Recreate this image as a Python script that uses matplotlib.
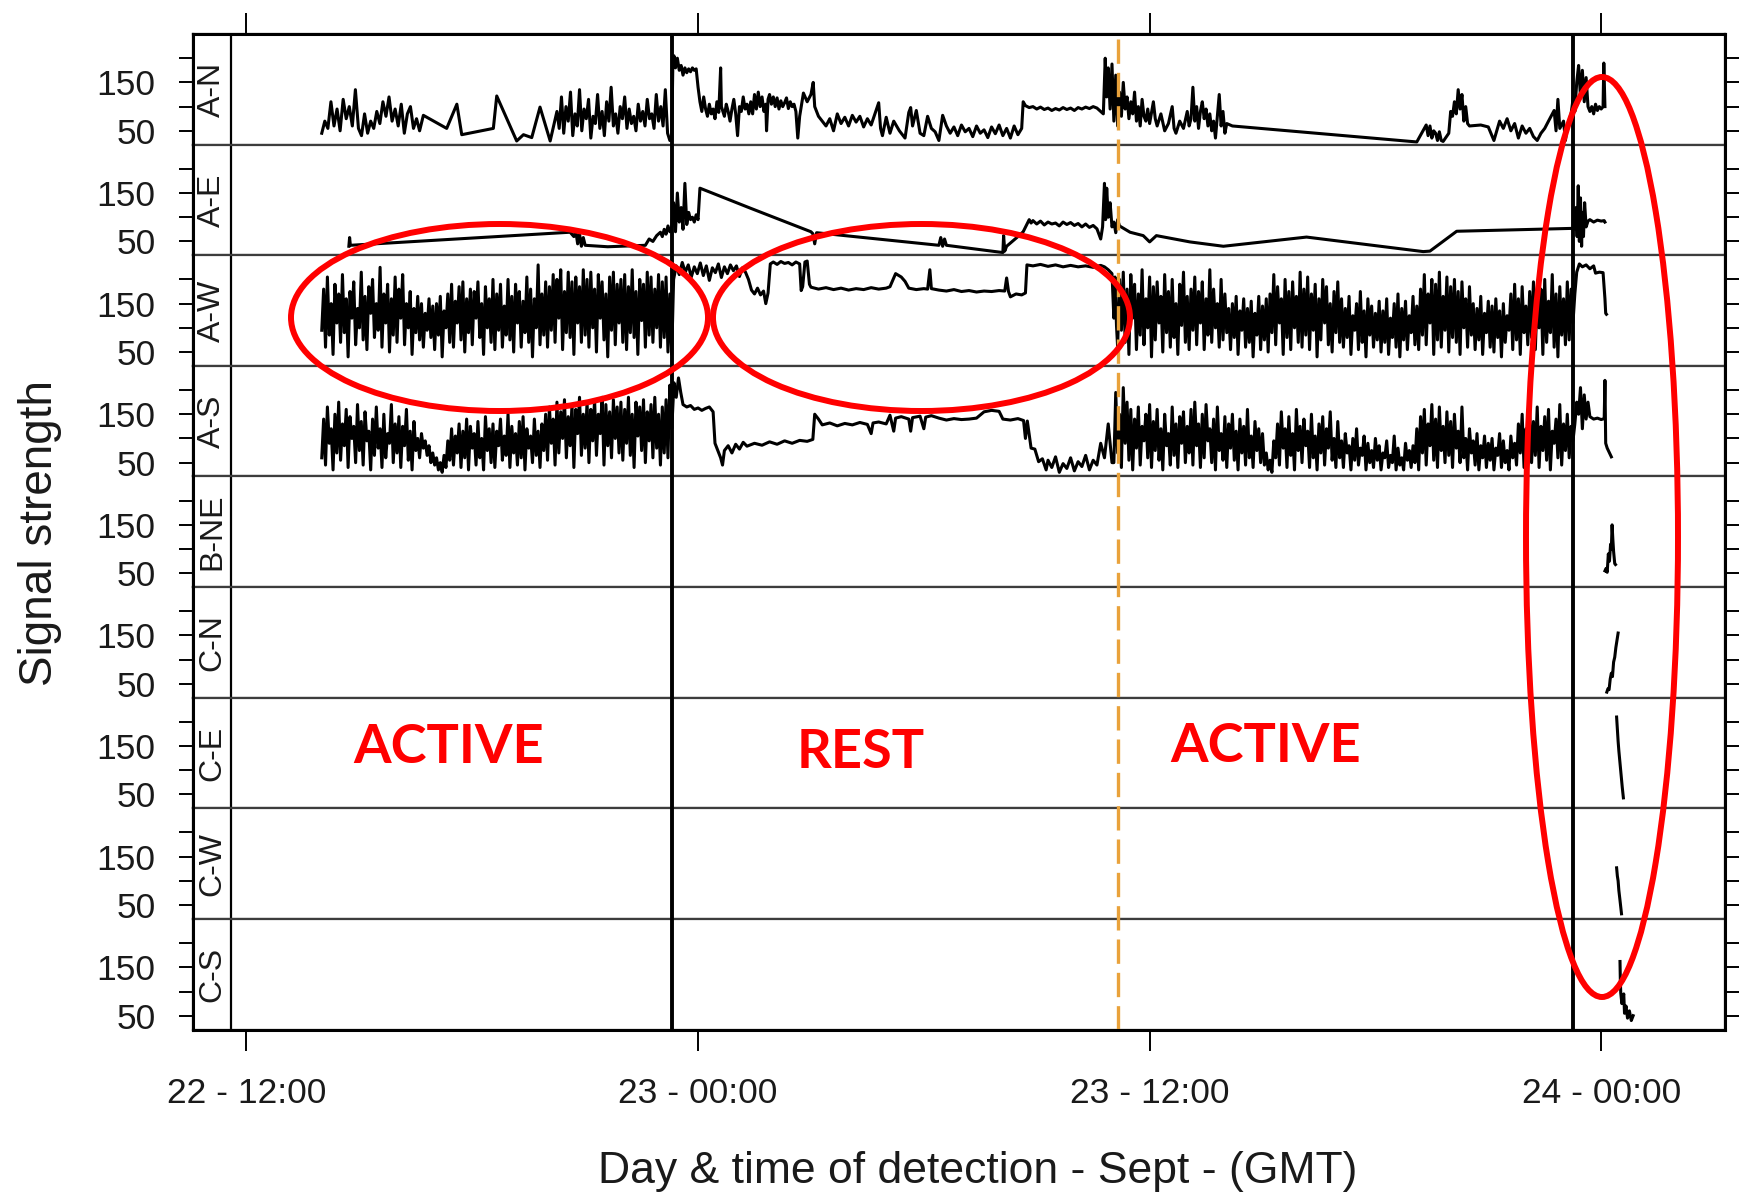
import numpy as np
import matplotlib
matplotlib.use("Agg")
import matplotlib.pyplot as plt
from matplotlib.patches import Ellipse

plt.rcParams['font.family'] = ['Liberation Sans', 'DejaVu Sans']

# ---------------- DATA (time in hours since 22 Sept 00:00 GMT) ----------------
panel_names = ["A-N", "A-E", "A-W", "A-S", "B-NE", "C-N", "C-E", "C-W", "C-S"]
xtick_hours = [12, 24, 36, 48]
xtick_labels = ["22 - 12:00", "23 - 00:00", "23 - 12:00", "24 - 00:00"]
ytick_vals = [50, 100, 150, 200]
ytick_labels = ["50", "", "150", ""]
event_black = [23.30, 47.26]
event_orange = [35.16]

# A-N
AN_grid1 = (14.0, 16.6, [45, 70, 55, 110, 60, 95, 50, 115, 75, 100, 60, 135, 55, 40, 85, 45, 70, 55, 90, 65,
                         110, 80, 120, 70, 95, 60, 105, 45, 85, 100, 55, 75, 50])
AN_pts1 = [(16.7, 82), (17.32, 55), (17.59, 105), (17.72, 42), (18.56, 55), (18.65, 122), (19.18, 29),
           (19.36, 42), (19.58, 36), (19.8, 99), (20.07, 29)]
AN_grid2 = (20.25, 23.25, [90, 55, 120, 45, 100, 70, 130, 40, 85, 60, 135, 50, 95, 75, 115, 35, 80, 65, 125, 55,
                           90, 40, 110, 70, 140, 60, 85, 45, 100, 75, 120, 55, 95, 65, 80, 50, 105, 70, 90, 60,
                           115, 75, 85, 55, 125, 70, 100, 60, 135, 45, 30])
AN_pts2 = [(23.3, 30), (23.33, 190), (23.36, 205), (23.4, 180), (23.45, 200), (23.5, 175), (23.55, 185),
           (23.6, 165), (23.65, 180), (23.7, 170), (23.75, 178), (23.8, 172), (23.85, 180), (23.9, 175),
           (23.95, 178), (24.0, 140), (24.05, 110), (24.1, 90), (24.15, 120), (24.2, 95), (24.25, 80),
           (24.3, 105), (24.35, 85), (24.4, 95), (24.45, 75), (24.5, 110), (24.55, 88), (24.6, 180),
           (24.62, 100), (24.7, 80), (24.75, 105), (24.8, 90), (24.85, 70), (24.9, 95), (24.95, 115),
           (25.0, 85), (25.05, 40), (25.1, 100), (25.15, 90), (25.2, 120), (25.25, 95), (25.3, 105), (25.35, 85)]
AN_pts3 = [(25.4, 110), (25.45, 85), (25.5, 125), (25.55, 95), (25.6, 130), (25.65, 100), (25.7, 120),
           (25.75, 90), (25.8, 105), (25.82, 50), (25.86, 115), (25.9, 125), (25.95, 105), (26.0, 120),
           (26.05, 100), (26.1, 118), (26.15, 95), (26.2, 112), (26.25, 100), (26.3, 108), (26.35, 118),
           (26.4, 96), (26.45, 110), (26.5, 100), (26.55, 105), (26.6, 90), (26.65, 35), (26.7, 80),
           (26.8, 128), (26.9, 110), (27.0, 125), (27.06, 150), (27.1, 100), (27.2, 80), (27.3, 70),
           (27.4, 60), (27.5, 75), (27.6, 50), (27.7, 85), (27.8, 65), (27.9, 78), (28.0, 60), (28.1, 82),
           (28.2, 68), (28.3, 80), (28.4, 58), (28.5, 75), (28.6, 62), (28.8, 108), (28.85, 55), (28.9, 40),
           (29.0, 78), (29.1, 45), (29.2, 70), (29.35, 50), (29.5, 35), (29.6, 88), (29.65, 98), (29.7, 60),
           (29.8, 92), (29.9, 45), (30.0, 40), (30.1, 80), (30.2, 55), (30.3, 48), (30.4, 30), (30.5, 82),
           (30.6, 60), (30.7, 45), (30.8, 58), (30.9, 40), (31.0, 62), (31.1, 48), (31.2, 55), (31.3, 38),
           (31.4, 60), (31.5, 45), (31.6, 52), (31.7, 36), (31.8, 58), (31.9, 44), (32.0, 62), (32.1, 40),
           (32.2, 55), (32.3, 35), (32.4, 60), (32.5, 42), (32.6, 55), (32.64, 110), (32.7, 102), (32.8, 98),
           (32.9, 100), (33.0, 95), (33.1, 99), (33.2, 94), (33.3, 97), (33.4, 92), (33.5, 96), (33.6, 93),
           (33.7, 98), (33.8, 94), (33.9, 97), (34.0, 92), (34.1, 98), (34.2, 95), (34.3, 99), (34.4, 96),
           (34.5, 100), (34.6, 97), (34.7, 90), (34.77, 85), (34.82, 200), (34.86, 120), (34.9, 180),
           (34.95, 95), (35.0, 188), (35.05, 70), (35.1, 165), (35.15, 60), (35.2, 130), (35.25, 80),
           (35.3, 150), (35.35, 95), (35.4, 120), (35.45, 75), (35.5, 110), (35.55, 85), (35.6, 130),
           (35.65, 70), (35.7, 100), (35.75, 60), (35.8, 115), (35.85, 80), (35.9, 70), (35.95, 95),
           (36.0, 65), (36.1, 110), (36.15, 75), (36.2, 60), (36.3, 85), (36.4, 50), (36.5, 65), (36.6, 100),
           (36.65, 55), (36.7, 45), (36.8, 70), (36.9, 55), (37.0, 90), (37.05, 60), (37.1, 75)]
AN_pts4 = [(37.15, 140), (37.2, 70), (37.25, 100), (37.3, 55), (37.35, 90), (37.4, 110), (37.45, 75),
           (37.5, 95), (37.55, 60), (37.6, 85), (37.65, 50), (37.7, 70), (37.75, 35), (37.8, 80), (37.85, 125),
           (37.9, 60), (37.95, 90), (38.0, 45), (38.05, 65), (38.2, 60), (43.1, 27), (43.35, 62), (43.4, 40),
           (43.45, 60), (43.5, 35), (43.55, 50), (43.6, 45), (43.65, 30), (43.7, 48), (43.75, 30), (43.8, 28),
           (43.95, 45), (44.0, 90), (44.05, 80), (44.1, 110), (44.15, 85), (44.2, 135), (44.25, 95),
           (44.3, 125), (44.35, 70), (44.4, 100), (44.45, 65), (44.5, 60), (44.8, 62), (45.0, 58), (45.15, 30),
           (45.3, 70), (45.4, 55), (45.5, 75), (45.6, 50), (45.7, 65), (45.8, 35), (45.9, 60), (46.0, 45),
           (46.1, 55), (46.2, 38), (46.3, 30), (46.4, 45), (46.5, 55), (46.6, 70), (46.75, 92), (46.8, 50),
           (46.85, 115), (46.9, 55), (47.0, 70), (47.05, 30), (47.1, 60), (47.2, 85), (47.26, 120),
           (47.3, 90), (47.35, 150), (47.4, 185), (47.45, 120), (47.5, 175), (47.55, 110), (47.6, 160),
           (47.65, 100), (47.7, 90), (47.75, 100), (47.8, 85), (47.85, 105), (47.9, 92), (47.95, 100),
           (48.0, 95), (48.05, 100), (48.07, 190), (48.1, 100)]

# A-E
AE_pts = [(14.72, 40), (14.74, 58), (14.76, 42), (20.6, 69), (20.7, 60), (20.75, 72), (20.8, 45), (20.85, 66),
          (20.9, 40), (20.95, 58), (21.0, 42), (21.6, 39), (22.6, 42), (22.7, 55), (22.8, 50), (22.9, 62),
          (23.0, 69), (23.05, 60), (23.1, 75), (23.15, 65), (23.2, 82), (23.25, 70), (23.3, 80), (23.35, 130),
          (23.4, 70), (23.45, 150), (23.5, 90), (23.55, 120), (23.6, 75), (23.65, 170), (23.7, 85),
          (23.75, 110), (23.8, 95), (23.85, 100), (23.9, 90), (23.95, 105), (24.0, 95), (24.05, 160),
          (25.38, 119), (27.0, 70), (27.05, 66), (27.1, 45), (27.15, 68), (30.4, 42), (30.45, 58), (30.5, 40),
          (30.55, 55), (30.6, 42), (32.1, 27), (32.12, 62), (32.15, 30), (32.2, 40), (32.5, 60), (32.64, 70),
          (32.8, 95), (32.85, 88), (32.9, 93), (33.0, 86), (33.1, 92), (33.2, 84), (33.3, 90), (33.4, 86),
          (33.5, 88), (33.6, 82), (33.7, 90), (33.8, 85), (33.9, 89), (34.0, 83), (34.1, 87), (34.2, 80),
          (34.3, 86), (34.4, 79), (34.5, 83), (34.6, 76), (34.7, 55), (34.75, 80), (34.8, 170), (34.83, 95),
          (34.86, 160), (34.9, 100), (34.95, 130), (35.0, 80), (35.05, 90), (35.1, 68), (35.15, 95),
          (35.2, 82), (35.48, 69), (35.83, 62), (36.0, 49), (36.18, 62), (37.07, 49), (37.96, 40),
          (40.17, 59), (43.27, 29), (43.45, 30), (44.16, 71), (47.26, 77), (47.3, 75), (47.33, 120),
          (47.36, 60), (47.39, 165), (47.42, 50), (47.45, 140), (47.48, 40), (47.5, 110), (47.53, 60),
          (47.56, 130), (47.6, 80), (47.65, 92), (47.7, 95), (47.8, 90), (47.9, 94), (48.0, 92), (48.08, 93),
          (48.1, 90)]

# A-W
AW_grid1 = (14.0, 23.3, [
    95, 180, 60, 205, 85, 150, 45, 190, 110, 170, 70, 210, 90, 160, 40, 175, 120, 195, 65, 140,
    100, 215, 75, 165, 55, 185, 130, 200, 80, 150, 95, 225, 60, 170, 110, 190, 50, 160, 85, 205,
    70, 180, 120, 210, 65, 150, 100, 175, 45, 140, 90, 165, 75, 150, 60, 130, 95, 160, 80, 145,
    55, 150, 85, 165, 40, 135, 100, 170, 70, 190, 60, 155, 110, 185, 75, 195, 50, 160, 90, 180,
    65, 175, 120, 195, 80, 150, 45, 185, 100, 160, 70, 200, 55, 170, 95, 190, 60, 145, 85, 200,
    75, 165, 50, 190, 110, 175, 60, 155, 90, 205, 70, 180, 40, 160, 100, 230, 65, 170, 85, 195,
    60, 185, 95, 210, 70, 200, 120, 220, 55, 175, 90, 215, 80, 195, 45, 205, 110, 185, 70, 220,
    85, 200, 60, 215, 100, 180, 50, 210, 120, 195, 75, 170, 40, 205, 95, 215, 65, 190, 110, 200,
    70, 210, 55, 185, 90, 220, 80, 175, 45, 200, 115, 190, 60, 215, 85, 205, 70, 180, 100, 210,
    60, 195, 80, 205, 50, 170, 45])
AW_pts2 = [(23.35, 200), (23.42, 228), (23.5, 210), (23.58, 235), (23.66, 215), (23.74, 230), (23.82, 205),
           (23.9, 226), (23.98, 212), (24.06, 234), (24.14, 208), (24.22, 228), (24.3, 198), (24.38, 224),
           (24.46, 214), (24.54, 232), (24.62, 204), (24.7, 226), (24.78, 212), (24.86, 230), (24.94, 218),
           (25.02, 228), (25.1, 206), (25.18, 224), (25.26, 215), (25.34, 200), (25.42, 178), (25.5, 170),
           (25.58, 182), (25.66, 168), (25.74, 176), (25.8, 150), (25.86, 172), (25.92, 232), (26.0, 236),
           (26.1, 231), (26.2, 237), (26.3, 233), (26.4, 235), (26.5, 230), (26.6, 236), (26.7, 232),
           (26.74, 177), (26.78, 185), (26.84, 236), (26.9, 238), (26.96, 190), (27.0, 184), (27.2, 180),
           (27.4, 183), (27.6, 179), (27.8, 182), (28.0, 178), (28.2, 181), (28.4, 179), (28.6, 183),
           (28.8, 180), (29.0, 182), (29.1, 185), (29.25, 212), (29.4, 205), (29.5, 196), (29.6, 182),
           (29.8, 179), (30.0, 181), (30.1, 180), (30.16, 220), (30.2, 181), (30.4, 178), (30.6, 176),
           (30.8, 179), (31.0, 175), (31.2, 177), (31.4, 174), (31.6, 176), (31.8, 175), (32.0, 177),
           (32.15, 176), (32.2, 203), (32.25, 175), (32.3, 164), (32.45, 170), (32.6, 168), (32.7, 172),
           (32.74, 230), (32.9, 228), (33.1, 231), (33.3, 227), (33.5, 230), (33.7, 226), (33.9, 229),
           (34.1, 226), (34.3, 228), (34.5, 225), (34.7, 229), (34.8, 226), (34.9, 220), (35.0, 212),
           (35.05, 120), (35.08, 205), (35.12, 104)]
AW_grid3 = (35.15, 47.25, [
    60, 200, 95, 215, 70, 180, 45, 210, 120, 190, 55, 170, 85, 220, 65, 160, 100, 205, 40, 185,
    75, 195, 110, 165, 50, 210, 90, 175, 60, 200, 80, 150, 45, 190, 105, 215, 70, 165, 55, 180,
    95, 205, 65, 175, 110, 195, 55, 160, 85, 220, 70, 180, 100, 150, 60, 200, 75, 170, 90, 140,
    55, 150, 80, 165, 45, 135, 95, 160, 60, 140, 70, 155, 40, 130, 85, 165, 55, 145, 75, 160,
    50, 170, 90, 210, 65, 185, 110, 160, 45, 200, 80, 175, 55, 195, 100, 165, 70, 215, 60, 180,
    85, 205, 55, 170, 95, 190, 40, 160, 75, 200, 110, 185, 65, 150, 50, 175, 90, 195, 70, 160,
    60, 140, 80, 165, 45, 125, 95, 150, 55, 175, 70, 135, 40, 160, 85, 145, 60, 130, 75, 155,
    50, 135, 70, 160, 45, 120, 80, 150, 60, 170, 40, 140, 75, 155, 55, 125, 90, 165, 65, 145,
    55, 180, 85, 210, 65, 170, 110, 200, 45, 190, 75, 215, 60, 165, 95, 205, 50, 185, 80, 200,
    70, 175, 45, 195, 100, 160, 60, 185, 85, 150, 55, 140, 75, 165, 45, 130, 90, 155, 60, 145,
    50, 160, 80, 135, 40, 150, 70, 125, 95, 170, 55, 190, 75, 160, 45, 185, 90, 145, 65, 175,
    80, 195, 55, 165, 100, 180, 45, 200, 70, 155, 90, 210, 60, 170, 40, 185, 85, 160, 65, 195,
    75, 180, 110])
AW_pts4 = [(47.3, 170), (47.35, 215), (47.42, 232), (47.5, 226), (47.6, 230), (47.7, 222), (47.8, 228),
           (47.85, 213), (47.95, 215), (48.05, 214), (48.1, 160), (48.12, 130), (48.14, 128)]

# A-S
AS_grid1 = (14.0, 23.3, [
    60, 140, 45, 165, 90, 120, 35, 150, 70, 175, 55, 130, 85, 160, 40, 145, 100, 125, 50, 170,
    75, 135, 45, 155, 95, 115, 35, 140, 65, 165, 80, 120, 40, 150, 60, 110, 90, 170, 50, 130,
    70, 145, 40, 125, 85, 160, 55, 115, 35, 135, 75, 100, 60, 110, 80, 95, 65, 85, 50, 70,
    45, 60, 35, 50, 30, 65, 40, 95, 55, 120, 45, 105, 70, 130, 40, 115, 60, 140, 35, 125,
    80, 110, 45, 135, 60, 100, 35, 145, 75, 120, 50, 130, 40, 115, 85, 140, 55, 105, 65, 150,
    40, 125, 70, 110, 45, 135, 60, 145, 35, 120, 80, 105, 50, 140, 65, 115, 40, 130, 75, 150,
    55, 165, 90, 140, 45, 175, 70, 155, 100, 180, 60, 145, 85, 170, 40, 160, 110, 185, 65, 150,
    80, 175, 50, 160, 95, 180, 65, 150, 110, 185, 45, 170, 85, 155, 60, 180, 100, 165, 70, 175,
    55, 160, 90, 185, 65, 150, 40, 175, 105, 165, 75, 180, 50, 155, 95, 170, 60, 185, 80, 150,
    45, 165, 70, 180, 60, 210, 120])
AS_pts2 = [(23.32, 150), (23.36, 215), (23.42, 185), (23.48, 225), (23.54, 195), (23.6, 170), (23.7, 165),
           (23.8, 168), (23.9, 160), (24.0, 163), (24.1, 158), (24.2, 162), (24.3, 165), (24.4, 155),
           (24.45, 90), (24.5, 80), (24.6, 60), (24.65, 45), (24.7, 75), (24.8, 85), (24.9, 70), (25.0, 88),
           (25.1, 78), (25.2, 92), (25.3, 84), (25.5, 90), (25.7, 86), (25.9, 93), (26.1, 88), (26.3, 95),
           (26.5, 90), (26.7, 96), (26.9, 94), (27.05, 98), (27.1, 150), (27.2, 140), (27.3, 128), (27.5, 132),
           (27.7, 126), (27.9, 131), (28.1, 128), (28.3, 133), (28.5, 129), (28.6, 110), (28.65, 132),
           (28.8, 134), (29.0, 130), (29.1, 148), (29.2, 115), (29.25, 142), (29.4, 145), (29.6, 140),
           (29.65, 115), (29.7, 143), (29.9, 146), (30.0, 120), (30.05, 144), (30.2, 147), (30.4, 142),
           (30.6, 138), (30.8, 141), (31.0, 139), (31.2, 140), (31.4, 142), (31.6, 155), (31.8, 158),
           (32.0, 156), (32.1, 140), (32.3, 138), (32.5, 141), (32.65, 137), (32.7, 100), (32.75, 136),
           (32.85, 80), (32.95, 78), (33.05, 52), (33.15, 58), (33.25, 35), (33.3, 55), (33.4, 40), (33.5, 62),
           (33.6, 30), (33.7, 48), (33.8, 38), (33.9, 60), (34.0, 33), (34.1, 52), (34.2, 42), (34.3, 65),
           (34.4, 35), (34.5, 55), (34.6, 45), (34.7, 90), (34.8, 60), (34.9, 130), (35.0, 50)]
AS_grid3 = (35.05, 47.25, [
    50, 195, 70, 150, 40, 205, 90, 175, 55, 160, 35, 140, 80, 165, 45, 125, 95, 150, 60, 170,
    40, 135, 75, 160, 55, 120, 35, 150, 85, 110, 45, 165, 65, 130, 40, 145, 90, 155, 50, 125,
    70, 160, 45, 175, 85, 130, 40, 150, 60, 170, 95, 120, 50, 140, 35, 165, 75, 110, 55, 145,
    40, 130, 80, 150, 55, 115, 35, 140, 70, 125, 45, 160, 60, 105, 40, 135, 75, 120, 50, 110,
    45, 70, 35, 55, 30, 95, 60, 130, 45, 155, 80, 120, 40, 145, 65, 110, 35, 160, 75, 125,
    50, 140, 85, 115, 40, 150, 60, 105, 35, 130, 70, 145, 45, 120, 80, 155, 55, 100, 40, 135,
    60, 95, 40, 110, 70, 85, 35, 100, 55, 120, 45, 80, 65, 105, 35, 90, 50, 75, 40, 100,
    55, 85, 35, 70, 60, 95, 40, 65, 50, 105, 35, 80, 45, 60, 35, 90, 55, 75, 40, 85,
    50, 120, 35, 145, 70, 160, 45, 130, 85, 170, 55, 140, 40, 165, 75, 125, 50, 155, 65, 135,
    40, 150, 80, 115, 50, 165, 60, 100, 35, 120, 70, 95, 45, 110, 35, 85, 60, 105, 40, 90,
    55, 100, 35, 80, 65, 110, 40, 95, 50, 75, 35, 105, 60, 90, 45, 130, 70, 150, 40, 120,
    85, 155, 50, 135, 65, 165, 40, 125, 75, 145, 55, 160, 35, 115, 90, 140, 60, 170, 45, 130,
    75, 150, 60, 125, 95])
AS_pts4 = [(47.3, 130), (47.35, 175), (47.4, 150), (47.45, 205), (47.5, 120), (47.55, 190), (47.6, 140),
           (47.65, 175), (47.7, 145), (47.8, 140), (47.9, 142), (48.0, 139), (48.08, 141), (48.1, 220),
           (48.12, 90), (48.16, 80), (48.22, 70), (48.27, 62)]

# B-NE, C-*
BNE_pts = [(48.10, 55), (48.13, 60), (48.16, 52), (48.19, 90), (48.22, 75), (48.25, 110), (48.27, 100),
           (48.29, 150), (48.31, 120), (48.33, 95), (48.36, 70), (48.38, 68)]
CN_pts = [(48.15, 33), (48.18, 40), (48.21, 38), (48.24, 60), (48.27, 72), (48.3, 65), (48.33, 95),
          (48.36, 105), (48.39, 125), (48.42, 140), (48.45, 155)]
CE_pts = [(48.41, 210), (48.43, 185), (48.45, 160), (48.47, 140), (48.5, 115), (48.53, 90), (48.56, 65),
          (48.59, 43)]
CW_pts = [(48.41, 127), (48.43, 110), (48.45, 100), (48.47, 80), (48.5, 60), (48.54, 32)]
CS_pts = [(48.5, 162), (48.51, 120), (48.52, 97), (48.55, 75), (48.6, 95), (48.62, 55), (48.66, 70),
          (48.7, 45), (48.75, 60), (48.8, 40), (48.85, 50)]

series = {
    "A-N": [AN_grid1, AN_pts1, AN_grid2, AN_pts2, AN_pts3, AN_pts4],
    "A-E": [AE_pts],
    "A-W": [AW_grid1, AW_pts2, AW_grid3, AW_pts4],
    "A-S": [AS_grid1, AS_pts2, AS_grid3, AS_pts4],
    "B-NE": [BNE_pts],
    "C-N": [CN_pts],
    "C-E": [CE_pts],
    "C-W": [CW_pts],
    "C-S": [CS_pts],
}

annotations = [("ACTIVE", 449, 763), ("REST", 861, 768), ("ACTIVE", 1266, 762)]


def build(pieces):
    ts, vs = [], []
    for p in pieces:
        if isinstance(p, tuple):
            t0, t1, vals = p
            ts.extend(np.linspace(t0, t1, len(vals)))
            vs.extend(vals)
        else:
            ts.extend([a for a, b in p])
            vs.extend([b for a, b in p])
    return np.array(ts), np.array(vs)


# ---------------- LAYOUT ----------------
W, H = 1741, 1194
L, R = 193, 1725
T, B = 34, 1029.5
ph = (B - T) / 9
px_per_h = 37.63
x12 = 246.5
x0 = 12 - (x12 - L) / px_per_h
x1 = 12 + (R - x12) / px_per_h
xs = 12 - (x12 - 231) / px_per_h  # strip boundary
ylim = (21.5, 250)

fig = plt.figure(figsize=(W / 100, H / 100), dpi=100)
tc = '#1a1a1a'

for i, name in enumerate(panel_names):
    top = T + i * ph
    ax = fig.add_axes([L / W, 1 - (top + ph) / H, (R - L) / W, ph / H])
    ax.set_xlim(x0, x1)
    ax.set_ylim(*ylim)
    t, v = build(series[name])
    ax.plot(t, v, color='black', lw=2.2)
    ax.axvline(xs, color='black', lw=1.6)
    ax.text((x0 + xs) / 2, 0.5, name, transform=ax.get_xaxis_transform(), rotation=90,
            ha='center', va='center', fontsize=23, color=tc)
    ax.set_yticks(ytick_vals)
    ax.set_yticklabels(ytick_labels)
    ax.tick_params(axis='y', left=True, right=True, direction='out', length=10, width=1.4,
                   labelsize=25.5, pad=17, colors='black', labelcolor=tc)
    ax.set_xticks(xtick_hours)
    if i == 0:
        ax.tick_params(axis='x', top=True, bottom=False, labeltop=False, labelbottom=False,
                       direction='out', length=15, width=1.4)
    elif i == len(panel_names) - 1:
        ax.set_xticklabels(xtick_labels)
        ax.tick_params(axis='x', top=False, bottom=True, labelbottom=True, direction='out',
                       length=15, width=1.4, labelsize=25.5, pad=19, labelcolor=tc)
    else:
        ax.tick_params(axis='x', top=False, bottom=False, labelbottom=False)
    for s in ax.spines.values():
        s.set_color('#3c3c3c')
        s.set_linewidth(1.6)

# event lines overlay
ov = fig.add_axes([L / W, 1 - B / H, (R - L) / W, (B - T) / H])
ov.set_xlim(x0, x1)
ov.set_ylim(0, 1)
ov.patch.set_alpha(0)
ov.set_xticks([])
ov.set_yticks([])
for s in ov.spines.values():
    s.set_color('black')
    s.set_linewidth(2.2)
for e in event_black:
    ov.axvline(e, color='black', lw=2.8)
for e in event_orange:
    ov.axvline(e, color='#E9A23B', lw=2.4, dashes=(7.3, 2.7))

# annotation overlay in pixel coordinates
an = fig.add_axes([0, 0, 1, 1])
an.set_xlim(0, W)
an.set_ylim(H, 0)
an.axis('off')
an.patch.set_alpha(0)
for (cx, cy, w, h) in [(499.5, 317.5, 417, 187), (921.5, 317.5, 417, 187), (1602, 537, 152, 920)]:
    an.add_patch(Ellipse((cx, cy), w, h, fill=False, ec='#FF0000', lw=4.3))
for txt, x, y in annotations:
    an.text(x, y, txt, color='#FF0000', fontsize=39, fontweight='bold', family=['Lato', 'DejaVu Sans'],
            ha='center', va='baseline')

fig.text(40 / W, 1 - 533 / H, 'Signal strength', rotation=90, ha='center', va='center',
         fontsize=33, color=tc)
fig.text(978 / W, 1 - 1172 / H, 'Day & time of detection - Sept - (GMT)', ha='center', va='center',
         fontsize=32, color=tc)

fig.savefig('out.png', dpi=100)
